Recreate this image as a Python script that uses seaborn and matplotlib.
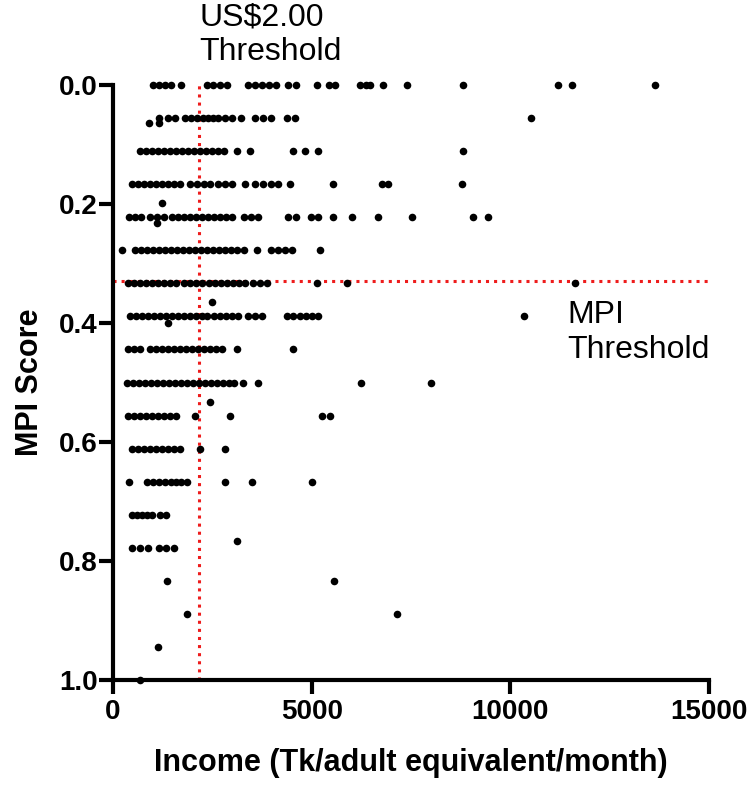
import matplotlib
matplotlib.use("Agg")
import matplotlib.pyplot as plt
import seaborn as sns
import pandas as pd
import numpy as np

# ---- data: income (Tk/adult equivalent/month) per MPI level (k/18) ----
inc_00 = [1007, 1158, 1309, 1460, 1712, 2366, 2517, 2693, 2869, 3398, 3574, 3750, 3927, 4103,
          4405, 4606, 5135, 5437, 5588, 6217, 6368, 6469, 6796, 7400, 8810, 11201, 11553, 13642]
inc_01 = [1158, 1384, 1560, 1812, 1963, 2114, 2265, 2391, 2517, 2643, 2819, 2995, 3222, 3574,
          3775, 3977, 4380, 4581, 10521]
inc_02 = [680, 831, 982, 1133, 1284, 1435, 1586, 1737, 1888, 2039, 2190, 2341, 2492, 2643, 2794,
          3121, 3448, 4531, 4833, 5160, 8810]
inc_03 = [478, 629, 780, 931, 1082, 1233, 1384, 1535, 1686, 1938, 2114, 2290, 2441, 2643, 2819,
          2995, 3322, 3574, 3775, 3977, 4153, 4455, 5537, 6771, 6922, 8784]
inc_04 = [403, 554, 705, 931, 1107, 1284, 1485, 1636, 1787, 1938, 2089, 2240, 2391, 2542, 2693,
          2844, 2995, 3297, 3473, 3650, 4405, 4606, 4984, 5160, 5537, 6016, 6670, 7526, 9061, 9439]
inc_05 = [227, 554, 705, 856, 1007, 1158, 1309, 1460, 1611, 1762, 1913, 2064, 2215, 2366, 2517,
          2668, 2819, 2970, 3121, 3297, 3625, 3977, 4153, 4329, 4505, 5210]
inc_06 = [378, 529, 680, 831, 982, 1133, 1284, 1435, 1586, 1787, 1938, 2089, 2240, 2416, 2567,
          2718, 2869, 3020, 3171, 3322, 3524, 3700, 3876, 5135, 5890, 11629]
inc_07 = [428, 579, 730, 881, 1032, 1183, 1334, 1485, 1636, 1787, 1938, 2089, 2240, 2366, 2542,
          2693, 2844, 2995, 3146, 3398, 3574, 3750, 4380, 4531, 4707, 4858, 5009, 5160, 10345]
inc_08 = [378, 529, 680, 931, 1082, 1233, 1384, 1535, 1686, 1837, 1988, 2139, 2290, 2441, 2592,
          2743, 3121, 4531]
inc_09 = [352, 503, 654, 805, 956, 1107, 1258, 1410, 1561, 1712, 1863, 2014, 2165, 2316, 2467,
          2618, 2769, 2920, 3045, 3272, 3650, 6242, 8004]
inc_10 = [378, 529, 680, 831, 982, 1133, 1284, 1435, 1586, 2064, 2945, 5260, 5462]
inc_11 = [478, 629, 780, 931, 1082, 1233, 1384, 1535, 1686, 2190, 2819]
inc_12 = [403, 856, 1007, 1158, 1309, 1460, 1586, 1712, 1863, 2819, 3499, 5009]
inc_13 = [478, 604, 730, 856, 982, 1183, 1334]
inc_14 = [478, 680, 881, 1158, 1334, 1535]
inc_15 = [1359, 5563]
inc_16 = [1863, 7148]
inc_17 = [1133]
inc_18 = [680]

# points that sit off the 1/18 grid
odd_income = [906, 1158, 1233, 1107, 2492, 1384, 2441, 3121]
odd_mpi = [0.064, 0.064, 0.198, 0.232, 0.365, 0.40, 0.533, 0.766]

income_threshold = 2165
mpi_threshold = 0.33

x_ticks = [0, 5000, 10000, 15000]
y_ticks = [0.0, 0.2, 0.4, 0.6, 0.8, 1.0]

rows = [inc_00, inc_01, inc_02, inc_03, inc_04, inc_05, inc_06, inc_07, inc_08, inc_09,
        inc_10, inc_11, inc_12, inc_13, inc_14, inc_15, inc_16, inc_17, inc_18]
xs, ys = [], []
for k, r in enumerate(rows):
    xs += r
    ys += [k / 18.0] * len(r)
xs += odd_income
ys += odd_mpi
df = pd.DataFrame({"income": xs, "mpi": ys})

sns.set_style("ticks")
plt.rcParams["font.family"] = ["Liberation Sans", "DejaVu Sans"]
plt.rcParams["text.color"] = "black"
plt.rcParams["axes.labelcolor"] = "black"

fig = plt.figure(figsize=(7.5, 7.89), dpi=100)
ax = fig.add_axes([113 / 750, 1 - 680 / 789, 596 / 750, 595 / 789])

sns.scatterplot(data=df, x="income", y="mpi", ax=ax, color="black", s=30,
                linewidth=0, legend=False, clip_on=False, zorder=3)

ax.axvline(income_threshold, color="#ee1c1c", linestyle=":", linewidth=2.2, zorder=2)
ax.axhline(mpi_threshold, color="#ee1c1c", linestyle=":", linewidth=2.2, zorder=2)

ax.set_xlim(0, 15000)
ax.set_ylim(1.0, 0.0)
ax.set_xticks(x_ticks)
ax.set_yticks(y_ticks)
ax.set_yticklabels([f"{v:.1f}" for v in y_ticks])

for s in ["top", "right"]:
    ax.spines[s].set_visible(False)
for s in ["left", "bottom"]:
    ax.spines[s].set_linewidth(3)
    ax.spines[s].set_color("black")

ax.tick_params(axis="both", length=10, width=3, colors="black", labelsize=20)
ax.tick_params(axis="y", pad=1)
ax.tick_params(axis="x", pad=4)
for lab in ax.get_xticklabels() + ax.get_yticklabels():
    lab.set_fontweight("bold")

ax.set_xlabel("Income (Tk/adult equivalent/month)", fontsize=22, fontweight="bold", labelpad=16)
ax.set_ylabel("MPI Score", fontsize=22, fontweight="bold", labelpad=10)

ax.text(income_threshold, -0.138, "US$2.00\nThreshold", fontsize=23, ha="left", va="top",
        color="black", clip_on=False)
ax.text(11430, 0.362, "MPI\nThreshold", fontsize=23, ha="left", va="top", color="black")

fig.savefig("out.png", dpi=100)
